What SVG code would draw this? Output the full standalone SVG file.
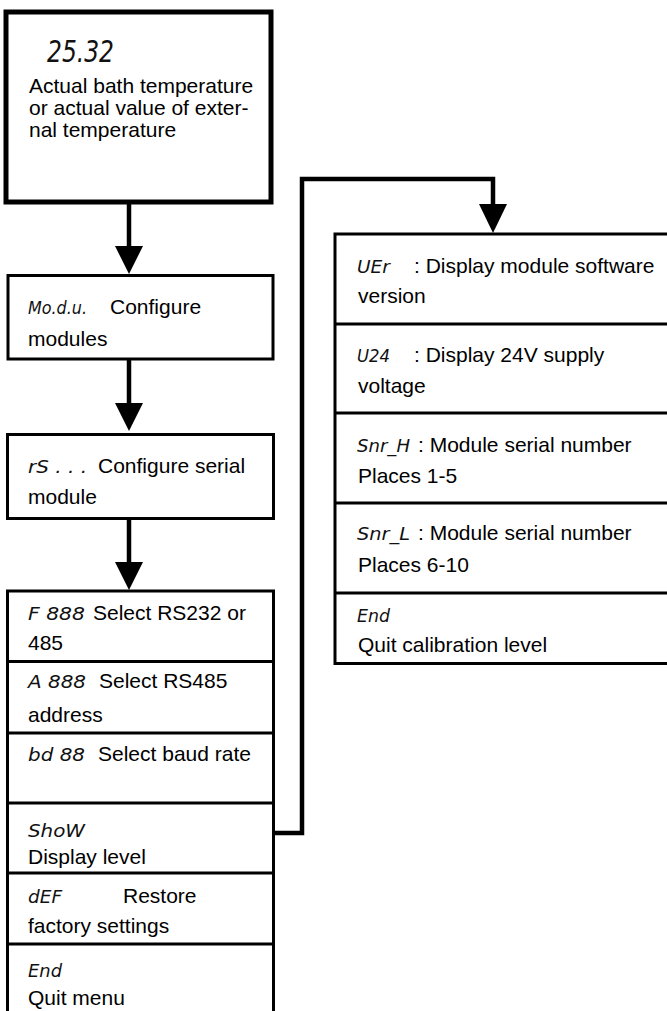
<svg xmlns="http://www.w3.org/2000/svg" width="667" height="1011" viewBox="0 0 667 1011">
<style>
.bg{fill:#fff}
.box{fill:#fff;stroke:#000;stroke-width:3}
.boxk{fill:#fff;stroke:#000;stroke-width:5}
.div{stroke:#000;stroke-width:3}
.t{font-family:"Liberation Sans",Arial,sans-serif;font-size:21px;fill:#000}
.c{font-family:"DejaVu Sans",sans-serif;font-weight:200;font-style:italic;font-size:17px;fill:#111}
.cl{font-size:31px}
.con{fill:none;stroke:#000;stroke-width:4.5;stroke-linejoin:miter}
.head{fill:#000}
</style>
<rect class="bg" x="0" y="0" width="667" height="1011"/>
<g id="connectors">
<line class="con" x1="129" y1="204" x2="129" y2="248"/>
<polygon class="head" points="115,246 143,246 129,274"/>
<line class="con" x1="129" y1="360" x2="129" y2="405"/>
<polygon class="head" points="115,403 143,403 129,431"/>
<line class="con" x1="129" y1="520" x2="129" y2="564"/>
<polygon class="head" points="115,562 143,562 129,590"/>
<path class="con" d="M275 833 H302 V179 H493 V206"/>
<polygon class="head" points="479,204 507,204 493,233"/>
</g>
<g id="n-top">
<rect class="boxk" x="6" y="12" width="265" height="190"/>
<text class="c cl" x="47" y="62" textLength="67" lengthAdjust="spacingAndGlyphs">25.32</text>
<text class="t" x="29" y="93">Actual bath temperature</text>
<text class="t" x="29" y="115">or actual value of exter-</text>
<text class="t" x="29" y="137">nal temperature</text>
</g>
<g id="n-modu">
<rect class="box" x="8" y="275.5" width="265" height="83.5"/>
<text class="c" x="28" y="314" textLength="59" lengthAdjust="spacingAndGlyphs">Mo.d.u.</text>
<text class="t" x="110" y="314">Configure</text>
<text class="t" x="28" y="346">modules</text>
</g>
<g id="n-rs">
<rect class="box" x="7.5" y="434.5" width="266" height="84"/>
<text class="c" x="28" y="473" textLength="59" lengthAdjust="spacingAndGlyphs">rS . . .</text>
<text class="t" x="98" y="473">Configure serial</text>
<text class="t" x="28" y="504">module</text>
</g>
<g id="n-list">
<rect class="box" x="7.5" y="591" width="266" height="430"/>
<line class="div" x1="7.5" y1="661.5" x2="273.5" y2="661.5"/>
<line class="div" x1="7.5" y1="733" x2="273.5" y2="733"/>
<line class="div" x1="7.5" y1="803" x2="273.5" y2="803"/>
<line class="div" x1="7.5" y1="873" x2="273.5" y2="873"/>
<line class="div" x1="7.5" y1="944" x2="273.5" y2="944"/>
<text class="c" x="28" y="620" textLength="57" lengthAdjust="spacingAndGlyphs">F 888</text>
<text class="t" x="93" y="620">Select RS232 or</text>
<text class="t" x="28" y="650">485</text>
<text class="c" x="28" y="688" textLength="58" lengthAdjust="spacingAndGlyphs">A 888</text>
<text class="t" x="99" y="688">Select RS485</text>
<text class="t" x="28" y="722">address</text>
<text class="c" x="28" y="761" textLength="57" lengthAdjust="spacingAndGlyphs">bd 88</text>
<text class="t" x="98" y="761">Select baud rate</text>
<text class="c" x="28" y="837" textLength="57" lengthAdjust="spacingAndGlyphs">ShoW</text>
<text class="t" x="28" y="864">Display level</text>
<text class="c" x="28" y="903" textLength="34" lengthAdjust="spacingAndGlyphs">dEF</text>
<text class="t" x="123" y="903">Restore</text>
<text class="t" x="28" y="933">factory settings</text>
<text class="c" x="28" y="977" textLength="34" lengthAdjust="spacingAndGlyphs">End</text>
<text class="t" x="28" y="1005">Quit menu</text>
</g>
<g id="n-cal">
<rect class="box" x="335" y="234" width="340" height="429.5"/>
<line class="div" x1="335" y1="324" x2="670" y2="324"/>
<line class="div" x1="335" y1="413" x2="670" y2="413"/>
<line class="div" x1="335" y1="503" x2="670" y2="503"/>
<line class="div" x1="335" y1="593" x2="670" y2="593"/>
<text class="c" x="357" y="273" textLength="33" lengthAdjust="spacingAndGlyphs">UEr</text>
<text class="t" x="414" y="273">: Display module software</text>
<text class="t" x="358" y="303">version</text>
<text class="c" x="357" y="362" textLength="33" lengthAdjust="spacingAndGlyphs">U24</text>
<text class="t" x="414" y="362">: Display 24V supply</text>
<text class="t" x="358" y="393">voltage</text>
<text class="c" x="357" y="452" textLength="53" lengthAdjust="spacingAndGlyphs">Snr_H</text>
<text class="t" x="418" y="452">: Module serial number</text>
<text class="t" x="358" y="483">Places 1-5</text>
<text class="c" x="357" y="540" textLength="53" lengthAdjust="spacingAndGlyphs">Snr_L</text>
<text class="t" x="418" y="540">: Module serial number</text>
<text class="t" x="358" y="572">Places 6-10</text>
<text class="c" x="357" y="622" textLength="33" lengthAdjust="spacingAndGlyphs">End</text>
<text class="t" x="358" y="652">Quit calibration level</text>
</g>
</svg>
